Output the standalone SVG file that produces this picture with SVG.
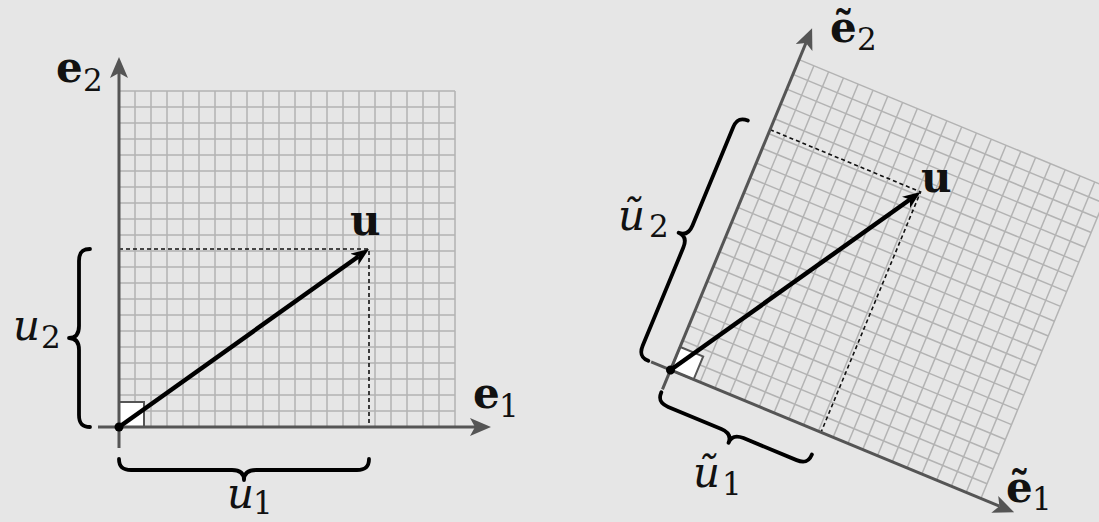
<svg xmlns="http://www.w3.org/2000/svg" xmlns:xlink="http://www.w3.org/1999/xlink" width="1099" height="522" viewBox="0 0 1099 522">
<style>
.grid{fill:none;stroke:#b3b3b3;stroke-width:1.5}
.axis{fill:none;stroke:#555;stroke-width:3}
.vec{fill:none;stroke:#000;stroke-width:4.5}
.dash{fill:none;stroke:#111;stroke-width:1.6;stroke-dasharray:4 3}
.brace{fill:none;stroke:#000;stroke-width:3.8;stroke-linecap:round;stroke-linejoin:round}
.box{fill:#fff;stroke:#555;stroke-width:2}
.lbl{font-family:"DejaVu Serif","Liberation Serif",serif;font-size:42px;fill:#111}
.b{font-weight:bold}
.i{font-style:italic}
.sub{font-size:31px;font-style:normal;font-weight:normal}
</style>
<defs>
<path id="grid" class="grid" d="M16 0V-336M32 0V-336M48 0V-336M64 0V-336M80 0V-336M96 0V-336M112 0V-336M128 0V-336M144 0V-336M160 0V-336M176 0V-336M192 0V-336M208 0V-336M224 0V-336M240 0V-336M256 0V-336M272 0V-336M288 0V-336M304 0V-336M320 0V-336M336 0V-336M0 -16H336M0 -32H336M0 -48H336M0 -64H336M0 -80H336M0 -96H336M0 -112H336M0 -128H336M0 -144H336M0 -160H336M0 -176H336M0 -192H336M0 -208H336M0 -224H336M0 -240H336M0 -256H336M0 -272H336M0 -288H336M0 -304H336M0 -320H336M0 -336H336"/>
<marker id="axArrow" viewBox="0 0 21 18" refX="5" refY="9" markerWidth="21" markerHeight="18" markerUnits="userSpaceOnUse" orient="auto">
<path d="M0,0 L21,9 L0,18 L5,9 Z" fill="#555"/>
</marker>
<marker id="vecArrow" viewBox="0 0 18 14" refX="5" refY="7" markerWidth="18" markerHeight="14" markerUnits="userSpaceOnUse" orient="auto">
<path d="M0,0 L18,7 L0,14 L5,7 Z" fill="#000"/>
</marker>
</defs>
<rect width="1099" height="522" fill="#e6e6e6"/>

<g id="left-panel" transform="translate(119,427)">
<use xlink:href="#grid" href="#grid"/>
<rect class="box" x="0" y="-25" width="25" height="25"/>
<g id="left-connectors">
<path class="dash" d="M0,-178 H250 V0"/>
<path class="axis" d="M-21,0 H356" marker-end="url(#axArrow)"/>
<path class="axis" d="M0,21 V-354" marker-end="url(#axArrow)"/>
<path class="vec" d="M0,0 L239.4,-170.5" marker-end="url(#vecArrow)"/>
</g>
<circle cx="0" cy="0" r="4.5" fill="#000"/>
<path id="left-brace-u1" class="brace" transform="translate(0,32)" d="M0,0 C0,8 4,11 12,11 H113 C121,11 125,14 125,21 C125,14 129,11 137,11 H238 C246,11 250,8 250,0"/>
<path id="left-brace-u2" class="brace" transform="translate(-29,-178) rotate(90)" d="M0,0 C0,8 4,11 12,11 H77 C85,11 89,14 89,21 C89,14 93,11 101,11 H166 C174,11 178,8 178,0"/>
</g>

<g id="left-labels">
<g id="label-e2"><text class="lbl b" x="56" y="82">e<tspan class="sub" x="83" y="91">2</tspan></text></g>
<g id="label-e1"><text class="lbl b" x="473" y="408">e<tspan class="sub" x="499" y="417">1</tspan></text></g>
<g id="label-u-left"><text class="lbl b" x="350" y="235">u</text></g>
<g id="label-u2"><text class="lbl i" x="13" y="340">u<tspan class="sub" x="41" y="348">2</tspan></text></g>
<g id="label-u1"><text class="lbl i" x="227" y="508">u<tspan class="sub" x="253" y="514">1</tspan></text></g>
</g>

<g id="right-panel" transform="translate(670.5,370) rotate(22.5)">
<use xlink:href="#grid" href="#grid"/>
<rect class="box" x="0" y="-25" width="25" height="25"/>
<g id="right-connectors">
<path class="dash" d="M0,-260.2 H162.9 V0"/>
<path class="axis" d="M-21,0 H356" marker-end="url(#axArrow)"/>
<path class="axis" d="M0,21 V-354" marker-end="url(#axArrow)"/>
<path class="vec" d="M0,0 L156,-249.2" marker-end="url(#vecArrow)"/>
</g>
<circle cx="0" cy="0" r="4.5" fill="#000"/>
<path id="right-brace-u1" class="brace" transform="translate(0,24)" d="M0,0 C0,8 4,11 12,11 H69.5 C77.5,11 81.5,14 81.5,21 C81.5,14 85.5,11 93.5,11 H151 C159,11 163,8 163,0"/>
<path id="right-brace-u2" class="brace" transform="translate(-24,-260) rotate(90)" d="M0,0 C0,8 4,11 12,11 H118 C126,11 130,14 130,21 C130,14 134,11 142,11 H248 C256,11 260,8 260,0"/>
</g>

<g id="right-labels">
<g id="label-te2"><text class="lbl b" x="830" y="42">ẽ<tspan class="sub" x="857" y="50">2</tspan></text></g>
<g id="label-te1"><text class="lbl b" x="1006" y="502">ẽ<tspan class="sub" x="1032" y="510">1</tspan></text></g>
<g id="label-u-right"><text class="lbl b" x="921" y="192">u</text></g>
<g id="label-tu2"><text class="lbl i" x="618" y="230">ũ<tspan class="sub" x="649" y="237">2</tspan></text></g>
<g id="label-tu1"><text class="lbl i" x="693" y="487">ũ<tspan class="sub" x="722" y="495">1</tspan></text></g>
</g>
</svg>
